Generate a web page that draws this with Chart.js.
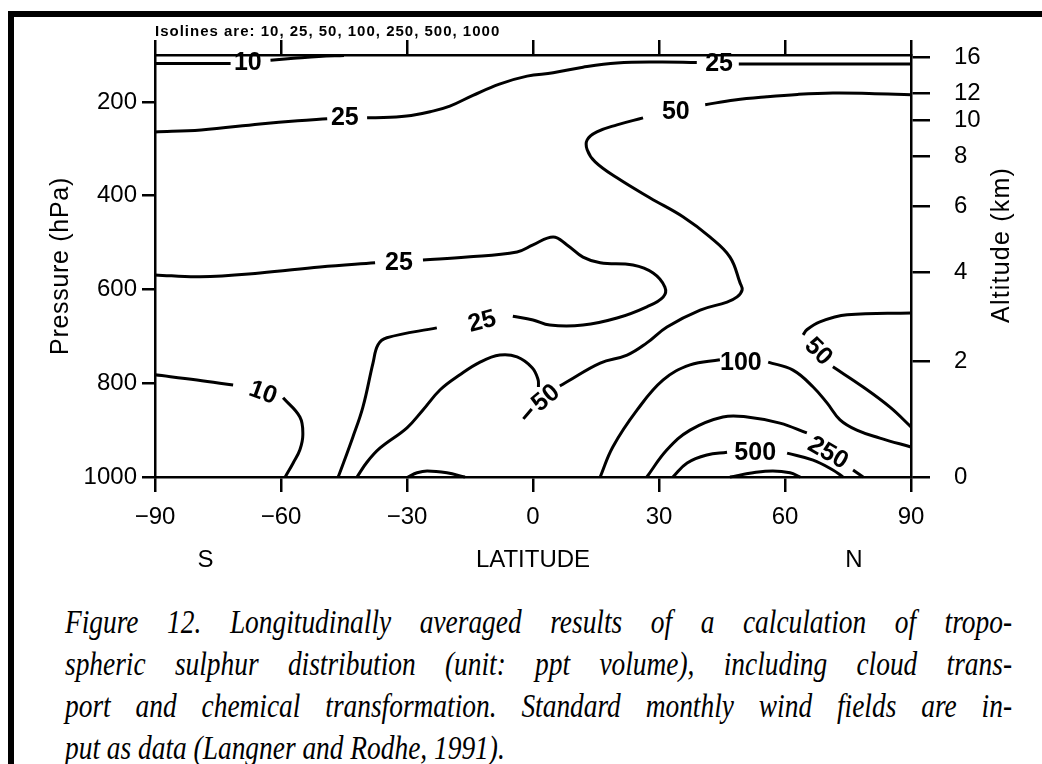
<!DOCTYPE html>
<html>
<head>
<meta charset="utf-8">
<title>Figure 12 - tropospheric sulphur</title>
<script src="https://cdn.jsdelivr.net/npm/chart.js@4"></script>
<style>
html, body { margin: 0; padding: 0; background: #fff; }
body { width: 1042px; height: 764px; position: relative; overflow: hidden; }
#frame-left { position: absolute; left: 8px; top: 11px; width: 6px; height: 753px; background: #000; }
#frame-top { position: absolute; left: 8px; top: 11px; width: 1034px; height: 6px; background: #000; }
#plot { position: absolute; left: 0; top: 0; width: 1042px; height: 590px; }
#caption { position: absolute; left: 65px; top: 601px; width: 1141px; color: #000;
  font: italic 33px "Liberation Serif", "Times New Roman", serif; line-height: 42px;
  transform: scaleX(0.83); transform-origin: 0 0; }
#caption div { text-align: justify; text-align-last: justify; white-space: nowrap; }
#caption div.last { text-align-last: left; }
</style>
</head>
<body>
<div id="frame-left"></div>
<div id="frame-top"></div>
<div id="plot"><canvas id="chart"></canvas></div>
<div id="caption">
  <div>Figure 12. Longitudinally averaged results of a calculation of tropo-</div>
  <div>spheric sulphur distribution (unit: ppt volume), including cloud trans-</div>
  <div>port and chemical transformation. Standard monthly wind fields are in-</div>
  <div class="last">put as data (Langner and Rodhe, 1991).</div>
</div>
<script>
// axes
const latTicks = [-90, -60, -30, 0, 30, 60, 90];
const pressureTicks = [200, 400, 600, 800, 1000];
const altitudeKm = [0, 2, 4, 6, 8, 10, 12, 16];
const altitudeHpa = [1000, 754, 564, 423, 317, 240, 182, 105];
const isolines = [10, 25, 50, 100, 250, 500, 1000];

// contour pieces: [latitude, pressure hPa]
// (pieces are broken where the value label sits)
const c10TopA = [[-90, 118], [-80, 118], [-72, 118]];
const c10TopB = [[-62.5, 111], [-57, 107], [-51, 103], [-45, 101]];

const c25UpperA = [[-90, 264], [-79, 260], [-65, 247], [-56, 240], [-49, 236]];
const c25UpperB = [[-39.5, 234], [-34, 233], [-29, 229], [-24.5, 221], [-19.8, 209], [-14.3, 186],
  [-8, 162], [-1.4, 145], [4.8, 138], [11.9, 126], [20, 117], [30, 115], [39, 116]];
const c25UpperC = [[49, 119], [60, 119], [75, 119], [90, 119]];

const c50UpperA = [[41, 206], [48, 196], [55.7, 189], [63, 184], [71.4, 181], [80, 182], [90, 185]];
const c50UpperB = [[26.2, 234], [20, 249], [15.2, 264], [12.9, 281], [12.9, 302], [14.8, 328],
  [20, 362], [27.9, 405], [35.7, 445], [42.1, 488], [46.9, 531], [49.3, 586], [49.8, 601],
  [48.6, 616], [46.2, 627], [39.8, 644], [31.9, 680], [27.1, 714], [22.4, 740], [16, 757],
  [8.1, 797], [6.4, 806]];
const c50Loop = [[-41.9, 1000], [-39.5, 968], [-36.4, 938], [-30, 895], [-26.2, 857], [-22.1, 814],
  [-17.4, 782], [-12.6, 755], [-7.9, 740], [-3.8, 744], [-0.2, 767], [1.2, 792], [1.3, 808]];
const c50Stub = [[-2.3, 876], [-0.3, 855]];

const c25MidA = [[-90, 569], [-79.3, 573], [-65, 565], [-50.7, 552], [-37.6, 543]];
const c25MidB = [[-26.2, 537], [-15.7, 531], [-3.8, 520], [0, 505], [4.8, 488], [8.1, 505],
  [11.9, 531], [16, 543], [23.8, 548], [28.6, 565], [31.4, 595], [31, 616], [27.1, 637],
  [20, 661], [11.9, 676], [4, 676], [0, 665], [-4.8, 657]];
const c25MidC = [[-22.9, 682], [-34.8, 703], [-36.9, 718], [-38.1, 757], [-40.5, 851],
  [-42.9, 915], [-46, 991], [-46.4, 1000]];

const c10LeftA = [[-90, 782], [-80, 793], [-71.4, 804]];
const c10LeftB = [[-59.5, 831], [-55.5, 872], [-54.8, 910], [-55.5, 942], [-57.1, 970], [-59, 1000]];
const cBumpSouth = [[-29.8, 1000], [-27.6, 991], [-25.2, 987], [-20.5, 991], [-16.2, 1000]];

const c50LowA = [[90, 650], [74.8, 654], [68.3, 669], [65.2, 686], [64.3, 697]];
const c50LowB = [[71.4, 765], [78.6, 808], [85, 851], [90, 893]];
const c100A = [[16, 1000], [19, 936], [24.8, 857], [31, 793], [37.4, 761], [44.5, 750]];
const c100B = [[56, 755], [61.9, 772], [66.7, 808], [70, 842], [73.1, 878], [77.1, 900],
  [82.6, 917], [90, 936]];
const c250A = [[27.1, 1000], [31.9, 942], [37.4, 900], [45.2, 872], [51, 872], [58.8, 885], [65.2, 906]];
const c250B = [[76.2, 985], [78.6, 1000]];
const c500A = [[33.3, 1000], [36.7, 970], [41.4, 953], [46.2, 947]];
const c500B = [[60.5, 949], [66.7, 964], [71.4, 985], [73.8, 1000]];
const c1000 = [[46.9, 1000], [52.4, 991], [57.1, 987], [61.2, 991], [63.6, 1000]];

// value labels on the isolines: text, latitude, pressure, rotation (deg)
const contourLabels = [
  ['10', -67.9, 118, 0], ['25', -44.8, 234, 0], ['25', 44.3, 119, 0], ['50', 34, 221, 0],
  ['25', -31.9, 543, 0], ['25', -12.1, 669, -15], ['10', -64.3, 821, 20], ['50', 3.1, 832, -40],
  ['100', 49.5, 757, 0], ['50', 67.9, 733, 45], ['500', 52.9, 949, 0], ['250', 70.2, 949, 30]
];

const pieces = [c10TopA, c10TopB, c25UpperA, c25UpperB, c25UpperC, c50UpperA, c50UpperB,
  c50Loop, c50Stub, c25MidA, c25MidB, c25MidC, c10LeftA, c10LeftB, cBumpSouth,
  c50LowA, c50LowB, c100A, c100B, c250A, c250B, c500A, c500B, c1000];

const FONT = '"Liberation Sans", Arial, sans-serif';

const annotate = {
  id: 'annotate',
  afterDraw(chart) {
    const { ctx, chartArea: a, scales: { x, y } } = chart;
    ctx.save();
    ctx.fillStyle = '#000';
    ctx.textAlign = 'center';
    ctx.textBaseline = 'middle';

    ctx.font = 'bold 25px ' + FONT;
    contourLabels.forEach(l => {
      ctx.save();
      ctx.translate(x.getPixelForValue(l[1]), y.getPixelForValue(l[2]));
      ctx.rotate(l[3] * Math.PI / 180);
      ctx.fillText(l[0], 0, 0);
      ctx.restore();
    });

    // axis titles
    ctx.font = '25px ' + FONT;
    ctx.save();
    ctx.letterSpacing = '0.7px';
    ctx.translate(a.left - 94, (a.top + a.bottom) / 2);
    ctx.rotate(-Math.PI / 2);
    ctx.fillText('Pressure (hPa)', 0, 0);
    ctx.restore();

    ctx.save();
    ctx.letterSpacing = '1.2px';
    ctx.translate(a.right + 91, 245);
    ctx.rotate(-Math.PI / 2);
    ctx.fillText('Altitude (km)', 0, 0);
    ctx.restore();

    ctx.font = '24px ' + FONT;
    ctx.fillText('LATITUDE', (a.left + a.right) / 2, 560);
    ctx.fillText('S', x.getPixelForValue(-78), 560);
    ctx.fillText('N', x.getPixelForValue(76.4), 560);

    ctx.font = 'bold 15px ' + FONT;
    ctx.letterSpacing = '1px';
    ctx.textAlign = 'left';
    ctx.fillText('Isolines are: ' + isolines.join(', '), a.left, 32);
    ctx.restore();
  }
};

function axisStyle(tickLength) {
  return {
    grid: { drawOnChartArea: false, drawTicks: true, tickLength: tickLength, color: '#000', lineWidth: 2.5 },
    border: { display: true, color: '#000', width: 2.5 }
  };
}

new Chart(document.getElementById('chart'), {
  type: 'scatter',
  data: {
    datasets: pieces.map(p => ({
      data: p.map(pt => ({ x: pt[0], y: pt[1] })),
      showLine: true,
      borderColor: '#000',
      borderWidth: 3,
      pointRadius: 0,
      tension: 0.4,
      fill: false,
      clip: 4,
      xAxisID: 'x',
      yAxisID: 'y'
    }))
  },
  options: {
    responsive: true,
    maintainAspectRatio: false,
    animation: false,
    events: [],
    layout: { padding: 0 },
    plugins: { legend: { display: false }, tooltip: { enabled: false } },
    scales: {
      x: Object.assign(axisStyle(15), {
        type: 'linear', position: 'bottom', min: -90, max: 90,
        afterBuildTicks: s => { s.ticks = latTicks.map(v => ({ value: v })); },
        afterFit: s => { s.height = 113; },
        ticks: {
          autoSkip: false, maxRotation: 0, padding: 11, color: '#000',
          font: { family: FONT, size: 24 },
          callback: v => (v < 0 ? '\u2212' + Math.abs(v) : String(v))
        }
      }),
      xTop: Object.assign(axisStyle(15), {
        type: 'linear', position: 'top', min: -90, max: 90,
        afterBuildTicks: s => { s.ticks = latTicks.map(v => ({ value: v })); },
        afterFit: s => { s.height = 55; },
        ticks: { display: false }
      }),
      y: Object.assign(axisStyle(13), {
        type: 'linear', position: 'left', min: 100, max: 1000, reverse: true,
        afterBuildTicks: s => { s.ticks = pressureTicks.map(v => ({ value: v })); },
        afterFit: s => { s.width = 155; },
        ticks: {
          autoSkip: false, padding: 5, color: '#000', font: { family: FONT, size: 24 },
          callback: v => String(v)
        }
      }),
      yAlt: Object.assign(axisStyle(19), {
        type: 'linear', position: 'right', min: 100, max: 1000, reverse: true,
        afterBuildTicks: s => { s.ticks = altitudeHpa.map(v => ({ value: v })); },
        afterFit: s => { s.width = 131; },
        ticks: {
          autoSkip: false, padding: 24, color: '#000', font: { family: FONT, size: 24 },
          callback: (v, i) => String(altitudeKm[i])
        }
      })
    }
  },
  plugins: [annotate]
});
</script>
</body>
</html>
